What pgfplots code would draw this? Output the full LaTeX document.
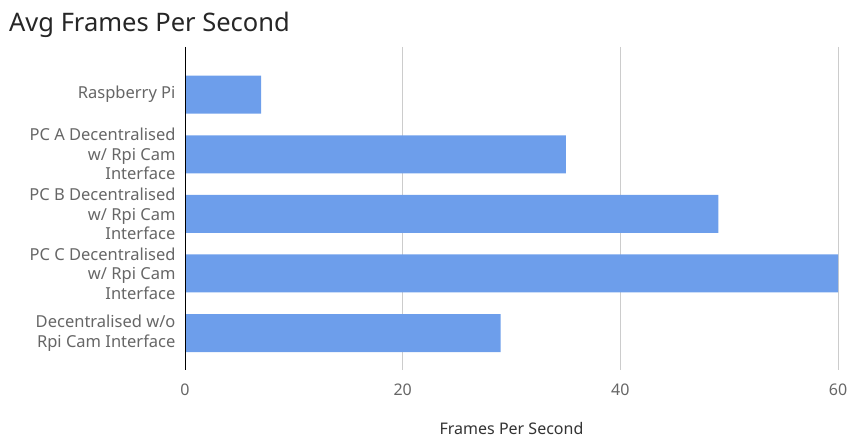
\documentclass[border=0pt]{standalone}
\usepackage{pgfplots}
\pgfplotsset{compat=1.18}
\usepackage{fontspec}
\setmainfont{Noto Sans}
\definecolor{barblue}{HTML}{6D9EEB}
\definecolor{labgray}{HTML}{666666}
\definecolor{gridgray}{HTML}{CCCCCC}
\begin{document}
\begin{tikzpicture}
\useasboundingbox (0pt,0pt) rectangle (850pt,439pt);
\node[anchor=west,text=black!85,font=\fontsize{25.5}{28}\selectfont,inner sep=0pt] at (9pt,414pt) {Avg Frames Per Second};
\begin{axis}[
  at={(185pt,69pt)}, anchor=south west,
  scale only axis, width=653pt, height=323pt,
  xmin=0, xmax=60,
  ymin=-0.8, ymax=4.62, y dir=reverse,
  xtick={0,20,40,60},
  ytick={0,1,2,3,4},
  yticklabels={{Raspberry Pi},{PC A Decentralised\\w/ Rpi Cam\\Interface},{PC B Decentralised\\w/ Rpi Cam\\Interface},{PC C Decentralised\\w/ Rpi Cam\\Interface},{Decentralised w/o\\Rpi Cam Interface}},
  yticklabel style={align=right,font=\fontsize{16.5}{19.5}\selectfont,text=labgray,xshift=-6pt},
  xticklabel style={font=\fontsize{16}{18}\selectfont,text=labgray,yshift=-10pt},
  /pgf/number format/assume math mode=true,
  xmajorgrids, major grid style={gridgray,line width=0.8pt},
  axis line style={draw=none},
  major tick length=0pt,
  xlabel={Frames Per Second},
  xlabel style={font=\fontsize{16}{18}\selectfont,text=black!80,yshift=-20pt},
  clip=false,
]
\addplot[xbar, bar width=38pt, fill=barblue, draw=none] coordinates {
  (7,0) (35,1) (49,2) (60,3) (29,4)
};
\draw[black,line width=1pt] (axis cs:0,-0.8) -- (axis cs:0,4.62);
\end{axis}
\end{tikzpicture}
\end{document}
